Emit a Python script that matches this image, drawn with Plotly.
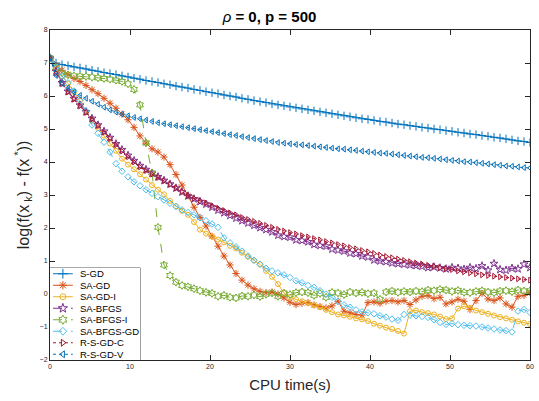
import plotly.graph_objects as go

# ---------------- data ----------------
cpu_time = [0, 0.75, 1.5, 2.25, 3, 3.75, 4.5, 5.25, 6, 6.75,
            7.5, 8.25, 9, 9.75, 10.5, 11.25, 12, 12.75, 13.5, 14.25,
            15, 15.75, 16.5, 17.25, 18, 18.75, 19.5, 20.25, 21, 21.75,
            22.5, 23.25, 24, 24.75, 25.5, 26.25, 27, 27.75, 28.5, 29.25,
            30, 30.75, 31.5, 32.25, 33, 33.75, 34.5, 35.25, 36, 36.75,
            37.5, 38.25, 39, 39.75, 40.5, 41.25, 42, 42.75, 43.5, 44.25,
            45, 45.75, 46.5, 47.25, 48, 48.75, 49.5, 50.25, 51, 51.75,
            52.5, 53.25, 54, 54.75, 55.5, 56.25, 57, 57.75, 58.5, 59.25,
            60]

s_gd = [7.15, 7.00, 6.95, 6.92, 6.88, 6.85, 6.82, 6.78, 6.75, 6.71,
        6.68, 6.65, 6.61, 6.58, 6.54, 6.51, 6.47, 6.44, 6.41, 6.37,
        6.34, 6.30, 6.27, 6.24, 6.20, 6.17, 6.13, 6.10, 6.07, 6.03,
        6.00, 5.97, 5.93, 5.90, 5.86, 5.83, 5.80, 5.76, 5.73, 5.70,
        5.67, 5.64, 5.61, 5.58, 5.55, 5.52, 5.49, 5.46, 5.43, 5.40,
        5.37, 5.34, 5.31, 5.29, 5.26, 5.23, 5.21, 5.18, 5.15, 5.13,
        5.10, 5.08, 5.05, 5.03, 5.00, 4.98, 4.95, 4.93, 4.90, 4.88,
        4.85, 4.83, 4.80, 4.78, 4.75, 4.73, 4.70, 4.67, 4.64, 4.62,
        4.59]

sa_gd = [7.15, 6.92, 6.78, 6.65, 6.53, 6.44, 6.32, 6.19, 6.07, 5.93,
         5.78, 5.63, 5.45, 5.28, 5.05, 4.79, 4.57, 4.40, 4.30, 4.15,
         3.92, 3.62, 3.30, 2.98, 2.63, 2.32, 2.06, 1.75, 1.45, 1.15,
         0.88, 0.62, 0.42, 0.27, 0.16, 0.08, 0.04, 0.06, 0.00, -0.12,
         -0.25, -0.32, -0.28, -0.26, -0.33, -0.38, -0.42, -0.36, -0.22, -0.52,
         -0.57, -0.62, -0.64, -0.26, -0.24, -0.28, -0.22, -0.20, -0.24, -0.20,
         -0.32, -0.18, -0.07, -0.05, -0.14, -0.10, -0.30, -0.24, -0.16, -0.22,
         -0.47, -0.20, 0.02, -0.15, -0.20, -0.12, -0.30, -0.40, -0.07, -0.04,
         0.04]

sa_gd_i = [7.15, 6.88, 6.60, 6.38, 6.12, 5.85, 5.52, 5.25, 5.03, 4.80,
           4.56, 4.34, 4.10, 3.92, 3.78, 3.63, 3.47, 3.30, 3.16, 3.02,
           2.82, 2.66, 2.52, 2.40, 2.18, 1.95, 1.83, 1.74, 1.65, 1.56,
           1.46, 1.38, 1.25, 1.13, 1.02, 0.90, 0.70, 0.52, 0.30, 0.03,
           -0.10, -0.16, -0.22, -0.28, -0.34, -0.40, -0.48, -0.55, -0.62, -0.65,
           -0.69, -0.74, -0.77, -0.82, -0.90, -0.96, -1.02, -1.06, -1.12, -1.20,
           -0.52, -0.50, -0.55, -0.58, -0.62, -0.68, -0.76, -0.74, -0.44, -0.37,
           -0.42, -0.50, -0.55, -0.60, -0.65, -0.70, -0.74, -0.78, -0.83, -0.87,
           -0.91]

sa_bfgs = [7.15, 6.75, 6.40, 6.14, 5.92, 5.72, 5.52, 5.32, 5.12, 4.93,
           4.74, 4.55, 4.37, 4.20, 4.04, 3.89, 3.77, 3.66, 3.55, 3.44,
           3.33, 3.21, 3.09, 2.97, 2.88, 2.80, 2.72, 2.63, 2.54, 2.46,
           2.38, 2.30, 2.22, 2.15, 2.08, 2.01, 1.95, 1.88, 1.78, 1.74,
           1.72, 1.64, 1.62, 1.58, 1.50, 1.47, 1.45, 1.36, 1.33, 1.30,
           1.24, 1.22, 1.15, 1.12, 1.03, 1.00, 0.98, 0.94, 0.92, 0.90,
           0.88, 0.86, 0.84, 0.80, 0.82, 0.79, 0.76, 0.80, 0.78, 0.75,
           0.80, 0.77, 0.85, 0.72, 0.92, 0.74, 0.72, 0.78, 0.76, 0.90,
           0.80]

sa_bfgs_i = [7.15, 6.85, 6.70, 6.64, 6.61, 6.60, 6.59, 6.57, 6.55, 6.53,
             6.51, 6.48, 6.44, 6.37, 6.20, 5.73, 4.58, 3.67, 2.02, 0.88,
             0.56, 0.36, 0.26, 0.22, 0.16, 0.10, 0.05, 0.02, -0.07, -0.04,
             -0.10, -0.12, -0.06, -0.07, -0.03, -0.08, -0.01, 0.03, -0.07, 0.03,
             -0.02, 0.04, 0.06, 0.04, -0.04, 0.02, -0.10, 0.05, 0.03, -0.02,
             0.06, 0.03, 0.05, 0.01, 0.03, -0.16, 0.06, 0.09, 0.05, 0.08,
             0.06, 0.09, 0.07, 0.12, 0.10, 0.14, 0.12, 0.08, 0.11, 0.05,
             0.04, 0.08, 0.10, 0.06, 0.04, 0.09, 0.10, 0.07, 0.12, 0.09,
             0.10]

sa_bfgs_gd = [7.15, 6.85, 6.60, 6.40, 6.15, 5.87, 5.55, 5.12, 4.87, 4.60,
              4.30, 3.95, 3.72, 3.55, 3.40, 3.28, 3.16, 3.05, 2.95, 2.85,
              2.75, 2.65, 2.55, 2.47, 2.40, 2.31, 2.22, 2.12, 2.02, 1.70,
              1.55, 1.43, 1.30, 1.15, 1.02, 0.90, 0.78, 0.70, 0.64, 0.58,
              0.50, 0.40, 0.34, 0.26, 0.20, 0.10, 0.00, -0.10, -0.22, -0.33,
              -0.40, -0.48, -0.54, -0.57, -0.60, -0.66, -0.70, -0.76, -0.80, -0.62,
              -0.64, -0.66, -0.68, -0.71, -0.78, -0.86, -0.92, -0.90, -0.93, -0.95,
              -0.96, -0.97, -1.00, -1.03, -1.06, -1.09, -1.11, -1.15, -0.52, -0.47,
              -0.56]

r_s_gd_c = [7.15, 6.70, 6.37, 6.12, 5.90, 5.70, 5.50, 5.30, 5.10, 4.90,
            4.71, 4.52, 4.33, 4.16, 4.00, 3.85, 3.74, 3.63, 3.53, 3.43,
            3.32, 3.21, 3.10, 2.98, 2.90, 2.83, 2.76, 2.68, 2.60, 2.53,
            2.46, 2.40, 2.32, 2.26, 2.20, 2.14, 2.08, 2.02, 1.96, 1.91,
            1.86, 1.82, 1.77, 1.73, 1.68, 1.64, 1.59, 1.55, 1.50, 1.46,
            1.41, 1.37, 1.32, 1.28, 1.23, 1.18, 1.14, 1.10, 1.06, 1.02,
            0.98, 0.94, 0.91, 0.87, 0.84, 0.80, 0.77, 0.74, 0.70, 0.67,
            0.64, 0.61, 0.58, 0.56, 0.54, 0.52, 0.50, 0.48, 0.46, 0.44,
            0.42]

r_s_gd_v = [7.15, 6.62, 6.38, 6.24, 6.12, 6.02, 5.93, 5.84, 5.75, 5.66,
            5.58, 5.51, 5.45, 5.40, 5.35, 5.31, 5.27, 5.23, 5.19, 5.16,
            5.13, 5.10, 5.07, 5.04, 5.01, 4.98, 4.95, 4.92, 4.89, 4.86,
            4.83, 4.80, 4.77, 4.74, 4.71, 4.68, 4.65, 4.62, 4.59, 4.57,
            4.55, 4.53, 4.52, 4.50, 4.48, 4.46, 4.44, 4.42, 4.40, 4.39,
            4.37, 4.35, 4.33, 4.31, 4.29, 4.27, 4.26, 4.24, 4.22, 4.20,
            4.18, 4.16, 4.14, 4.13, 4.11, 4.09, 4.07, 4.05, 4.03, 4.01,
            4.00, 3.98, 3.96, 3.94, 3.92, 3.90, 3.88, 3.87, 3.85, 3.83,
            3.82]

series_names = ["S-GD", "SA-GD", "SA-GD-I", "SA-BFGS", "SA-BFGS-I",
                "SA-BFGS-GD", "R-S-GD-C", "R-S-GD-V"]
series_values = [s_gd, sa_gd, sa_gd_i, sa_bfgs, sa_bfgs_i,
                 sa_bfgs_gd, r_s_gd_c, r_s_gd_v]

x_ticks = [0, 10, 20, 30, 40, 50, 60]
y_ticks = [-2, -1, 0, 1, 2, 3, 4, 5, 6, 7, 8]

# ---------------- styles ----------------
colors = ["#0072BD", "#D95319", "#EDB120", "#7E2F8E", "#77AC30",
          "#4DBEEE", "#A2142F", "#0072BD"]
dashes = ["solid", "solid", "solid", "dash", "dash", "dash", "dot", "dot"]
symbols = ["cross-thin-open", "asterisk-open", "circle-open", "star-open",
           "hexagram-open", "diamond-open", "triangle-right-open",
           "triangle-left-open"]
msizes = [6, 6, 5, 6, 6, 5, 5, 5]

FONT = "Liberation Sans, Arial, Helvetica, sans-serif"
AX = "#262626"

fig = go.Figure()

for name, vals, c, d, s, ms in zip(series_names, series_values, colors,
                                   dashes, symbols, msizes):
    fig.add_trace(go.Scatter(
        x=cpu_time, y=vals, name=name, mode="lines+markers",
        line=dict(color=c, width=1, dash=d),
        marker=dict(symbol=s, size=ms, color=c, line=dict(color=c, width=1)),
        showlegend=False))

# ---------------- custom compact legend (inset axes) ----------------
n = len(series_names)
leg_line_x = [3, 23]
leg_mark_x = [13]
for i, (name, c, d, s, ms) in enumerate(zip(series_names, colors, dashes,
                                            symbols, msizes)):
    row = n - 0.5 - i
    fig.add_trace(go.Scatter(
        x=leg_line_x, y=[row, row], xaxis="x2", yaxis="y2",
        mode="lines", hoverinfo="skip", showlegend=False,
        line=dict(color=c, width=1, dash=d)))
    fig.add_trace(go.Scatter(
        x=leg_mark_x, y=[row], xaxis="x2", yaxis="y2",
        mode="markers", hoverinfo="skip", showlegend=False,
        marker=dict(symbol=s, size=ms + 1, color=c,
                    line=dict(color=c, width=1))))
    fig.add_annotation(x=28.5, y=row, xref="x2", yref="y2", text=name,
                       showarrow=False, xanchor="left", yanchor="middle",
                       font=dict(family=FONT, size=9.5, color="black"))

plot_w = 539 - 50 - 5
plot_h = 401 - 30 - 41
leg_w, leg_h = 91, 92
fig.add_shape(type="rect", xref="paper", yref="paper",
              x0=0, x1=leg_w / plot_w, y0=0, y1=leg_h / plot_h,
              line=dict(color=AX, width=0.8), fillcolor="white", layer="below")

axis_common = dict(
    ticks="inside", ticklen=5, tickwidth=1, tickcolor=AX,
    showline=True, linecolor=AX, linewidth=1, mirror="ticks",
    showgrid=False, zeroline=False,
    tickfont=dict(family=FONT, size=7, color=AX),
)

fig.update_layout(
    width=539, height=401,
    margin=dict(l=50, r=5, t=30, b=41),
    paper_bgcolor="white", plot_bgcolor="white",
    showlegend=False,
    font=dict(family=FONT, color=AX),
    title=dict(text="<i>ρ</i><b> = 0, p = 500</b>", x=0.5, xanchor="center",
               xref="container", y=1 - 16.5 / 401, yanchor="middle",
               font=dict(family=FONT, size=15, color="black")),
    xaxis=dict(range=[0, 60], tickvals=x_ticks, **axis_common,
               title=dict(text="CPU time(s)", standoff=10,
                          font=dict(family=FONT, size=15, color=AX))),
    yaxis=dict(range=[-2, 8], tickvals=y_ticks, **axis_common,
               title=dict(text="log(f(x<sub> k</sub>) - f(x<sup> *</sup>))",
                          standoff=6,
                          font=dict(family=FONT, size=16, color=AX))),
    xaxis2=dict(domain=[0, leg_w / plot_w], range=[0, leg_w], visible=False,
                anchor="y2", fixedrange=True),
    yaxis2=dict(domain=[0, leg_h / plot_h], range=[0, n], visible=False,
                anchor="x2", fixedrange=True),
)

fig.write_html("out.html")
